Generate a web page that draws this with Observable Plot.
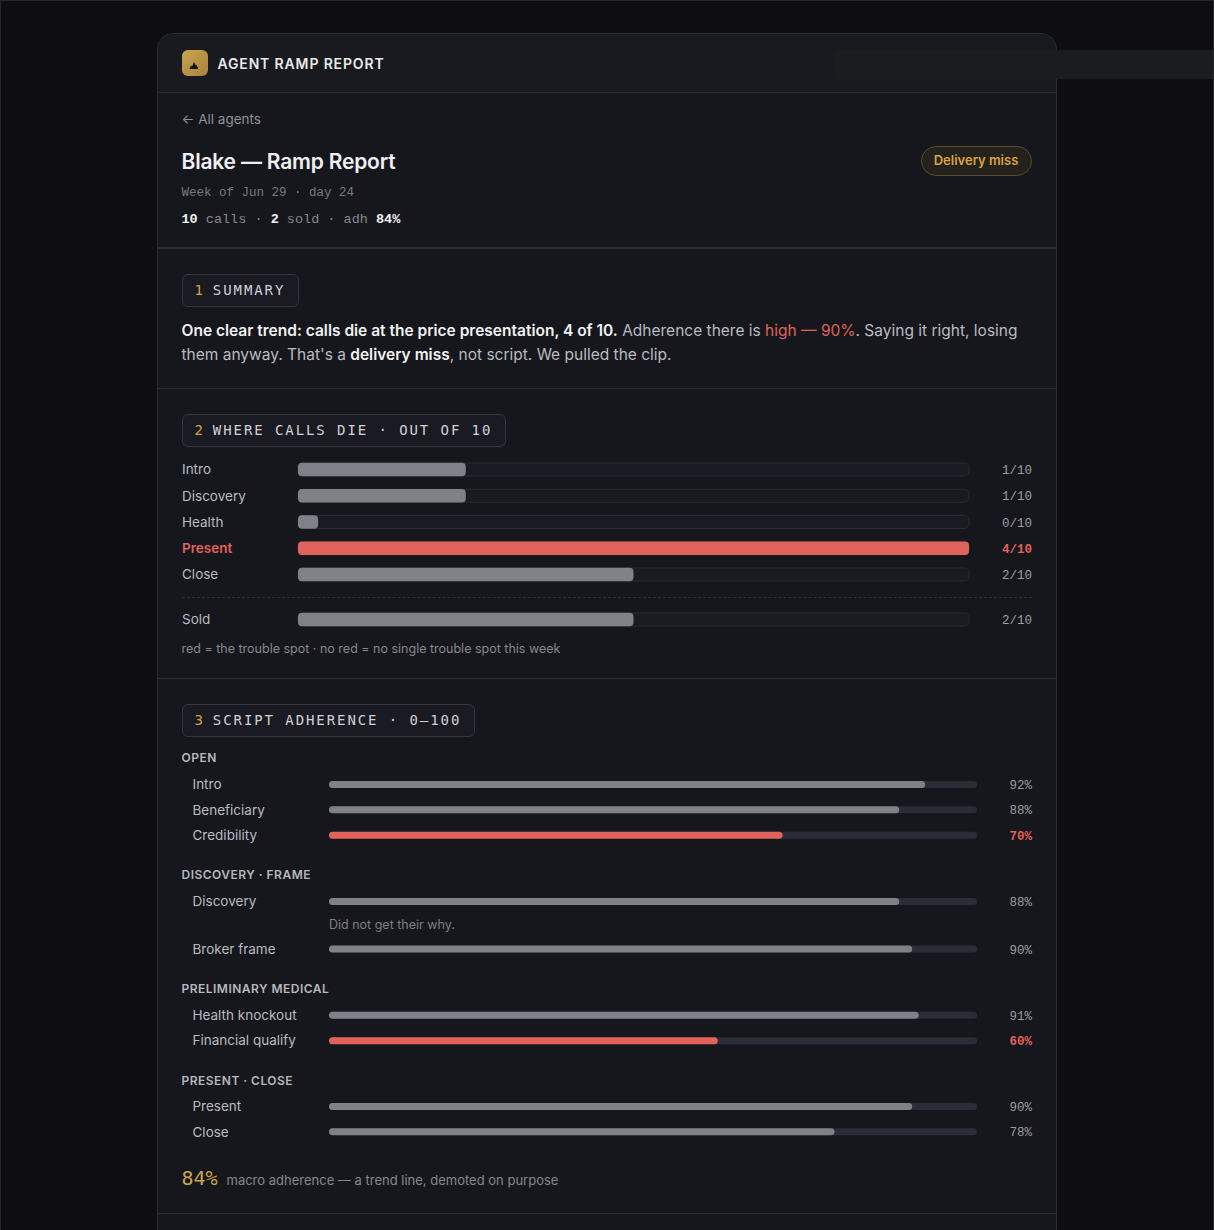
<!DOCTYPE html>
<html><head><meta charset="utf-8">
<script src="https://cdn.jsdelivr.net/npm/d3@7"></script>
<script src="https://cdn.jsdelivr.net/npm/@observablehq/plot@0.6"></script>
<style>
html,body{margin:0;padding:0;background:#0e0e12;width:1214px;height:1230px;overflow:hidden;font-family:Inter,sans-serif;}
#frame{position:absolute;left:0;top:0;width:1212px;height:1230px;border:1px solid #26262c;border-bottom:none;}
#card{position:absolute;left:156.5px;top:33px;width:898px;height:1300px;background:#16171c;border:1px solid #2a2b33;border-radius:16px 16px 0 0;box-sizing:content-box;}
#head{position:absolute;left:157.5px;top:34px;width:898px;height:58px;background:#191a1f;border-radius:16px 16px 0 0;}
.a{position:absolute;white-space:nowrap;}
.rule{position:absolute;left:157.5px;width:898px;background:#2a2b33;height:1px;}
.mono{font-family:"Liberation Mono",monospace;}
.chip{position:absolute;left:181.5px;height:31px;line-height:30px;box-sizing:content-box;border:1px solid #34353f;border-radius:6px;background:#1a1b22;color:#d0d1d6;font-family:"DejaVu Sans Mono",monospace;font-size:14px;letter-spacing:1.92px;padding:0 13px 0 12px;white-space:nowrap;}
.chip b{font-weight:400;color:#d0a345;margin-right:8px;}
.grp{position:absolute;left:181.5px;font-size:12px;font-weight:600;letter-spacing:.48px;color:#b5b7bd;white-space:nowrap;}
.plot-slot{position:absolute;left:181px;}
.sum{position:absolute;left:181.5px;font-size:15.5px;line-height:24px;color:#b9bbc1;white-space:pre;}
.sum b{font-weight:600;color:#f0f1f3;}
</style></head><body>
<div id="frame"></div>
<div id="card"></div>
<div id="head"></div>
<div class="a" style="left:835px;top:50px;width:378px;height:29px;background:#1a1c20"></div>
<div class="a" style="left:181.5px;top:50px;width:26px;height:26px;border-radius:6px;background:linear-gradient(135deg,#c9a550,#a8823a)">
<svg width="26" height="26" viewBox="0 0 26 26"><path d="M7.5 19 L9 15.5 L10 16.8 L12 12 L13.8 15.5 L14.6 15 L16.2 19 Z" fill="#14120c"/></svg></div>
<div class="a" style="left:217.5px;top:55px;font-size:14px;line-height:18px;font-weight:600;letter-spacing:.85px;color:#e8e9ec">AGENT RAMP REPORT</div>
<div class="rule" style="top:92px"></div>

<div class="a" style="left:181.5px;top:110px;font-size:13.5px;line-height:18px;color:#8f9198">← All agents</div>
<div class="a" style="left:181.5px;top:147.5px;font-size:21px;line-height:28px;font-weight:600;letter-spacing:-.2px;color:#eeeff2">Blake — Ramp Report</div>
<div class="a mono" style="left:181.5px;top:185px;font-size:12.5px;line-height:16px;color:#777981">Week of Jun 29 · day 24</div>
<div class="a mono" style="left:181.5px;top:211px;font-size:13.5px;line-height:18px;color:#85878f"><b style="color:#f0f1f3">10</b> calls · <b style="color:#f0f1f3">2</b> sold · adh <b style="color:#f0f1f3">84%</b></div>
<div class="a" style="left:920.5px;top:146px;width:109px;height:28px;line-height:27px;text-align:center;border:1px solid #5a4a2a;border-radius:15px;background:#25211c;color:#d9a441;font-size:13px;font-weight:600">Delivery miss</div>
<div class="rule" style="top:247px;height:2px"></div>

<div class="chip" style="top:274px"><b>1</b>SUMMARY</div>
<div class="sum" style="top:319px"><b>One clear trend: calls die at the price presentation, 4 of 10.</b><span> Adherence there is </span><span style="color:#e0625a">high — 90%</span><span>. Saying it right, losing</span></div>
<div class="sum" style="top:343px"><span>them anyway. That's a </span><b>delivery miss</b><span>, not script. We pulled the clip.</span></div>
<div class="rule" style="top:388px"></div>

<div class="chip" style="top:414px"><b>2</b>WHERE CALLS DIE · OUT OF 10</div>
<div class="plot-slot" id="stages" style="top:456px"></div>
<div class="a" style="left:181.5px;top:597px;width:850px;border-top:1px dashed #2e2f37"></div>
<div class="plot-slot" id="sold" style="top:606px"></div>
<div class="a" style="left:181.5px;top:640px;font-size:12.5px;line-height:17px;color:#85878f">red = the trouble spot · no red = no single trouble spot this week</div>
<div class="rule" style="top:678px"></div>

<div class="chip" style="top:704px"><b>3</b>SCRIPT ADHERENCE · 0–100</div>
<div class="grp" style="top:750px">OPEN</div>
<div class="plot-slot" id="g1" style="top:771px"></div>
<div class="grp" style="top:867px">DISCOVERY · FRAME</div>
<div class="plot-slot" id="g2" style="top:877px"></div>
<div class="grp" style="top:981px">PRELIMINARY MEDICAL</div>
<div class="plot-slot" id="g3" style="top:1002px"></div>
<div class="grp" style="top:1073px">PRESENT · CLOSE</div>
<div class="plot-slot" id="g4" style="top:1093px"></div>
<div class="a" style="left:181.5px;top:1165px;font-family:'DejaVu Sans Mono',monospace;font-size:20px;line-height:26px;color:#c9a24f">84%</div>
<div class="a" style="left:226.5px;top:1171px;font-size:13px;line-height:18px;color:#85878f">macro adherence — a trend line, demoted on purpose</div>
<div class="rule" style="top:1213px"></div>

<script>
// Section 2: where calls die, out of 10
const stageNames = ["Intro","Discovery","Health","Present","Close"];
const stageLost = [1,1,0,4,2];
const stageBar = [1,1,0.12,4,2];      // 0 is drawn with a small stub in the original
const stageHot = ["Present"];
const soldNames = ["Sold"];
const soldCount = [2];
const callScaleMax = 4;

// Section 3: script adherence, 0-100
const openNames = ["Intro","Beneficiary","Credibility"];
const openScores = [92,88,70];
const frameNames = ["Discovery","Broker frame"];
const frameScores = [88,90];
const medicalNames = ["Health knockout","Financial qualify"];
const medicalScores = [91,60];
const closeNames = ["Present","Close"];
const closeScores = [90,78];
const lowScores = ["Credibility","Financial qualify"];
const notes = {"Discovery":"Did not get their why."};

const RED="#e0625a", GREY="#7f8189";
const SANS="Inter, sans-serif", MONO="'Liberation Mono', monospace";

function countChart(id,names,bars,labels,hot,off){
  const rows=names.map((n,i)=>({name:n,bar:bars[i],label:labels[i]+"/10",hot:hot.includes(n)}));
  const cool=rows.filter(d=>!d.hot), warm=rows.filter(d=>d.hot);
  const step=26.25, h=rows.length*step;
  document.getElementById(id).append(Plot.plot({
    width:850,height:Math.ceil(h+off),marginLeft:117,marginRight:62,marginTop:0,marginBottom:0,
    style:{background:"transparent",overflow:"visible"},
    x:{domain:[0,callScaleMax],axis:null},
    y:{domain:names,range:[off,off+h],padding:0,round:false,axis:null},
    marks:[
      Plot.barX(rows,{x:()=>callScaleMax,y:"name",fill:"#1a1b22",stroke:"#2a2b33",strokeWidth:1,rx:4.5,insetTop:6.625,insetBottom:6.625}),
      Plot.barX(rows,{x:"bar",y:"name",fill:d=>d.hot?RED:GREY,rx:4,insetTop:6.4,insetBottom:6.4}),
      Plot.text(cool,{x:()=>0,dx:-116.5,y:"name",text:"name",textAnchor:"start",fontFamily:SANS,fontSize:13.5,fill:"#b9bbc1"}),
      Plot.text(warm,{x:()=>0,dx:-116.5,y:"name",text:"name",textAnchor:"start",fontFamily:SANS,fontSize:13.5,fontWeight:600,fill:RED}),
      Plot.text(cool,{x:()=>callScaleMax,dx:62.5,y:"name",text:"label",textAnchor:"end",fontFamily:MONO,fontSize:12.5,fill:"#9b9da4"}),
      Plot.text(warm,{x:()=>callScaleMax,dx:62.5,y:"name",dy:0.5,text:"label",textAnchor:"end",fontFamily:MONO,fontSize:12.5,fontWeight:700,fill:RED})
    ]
  }));
}

function scoreChart(id,names,scores,step,off){
  const rows=names.map((n,i)=>({name:n,score:scores[i],hot:lowScores.includes(n),note:notes[n]||""}));
  const cool=rows.filter(d=>!d.hot), warm=rows.filter(d=>d.hot);
  const h=rows.length*step, inset=(step-7)/2;
  document.getElementById(id).append(Plot.plot({
    width:850,height:Math.ceil(h+off),marginLeft:148,marginRight:54,marginTop:0,marginBottom:0,
    style:{background:"transparent",overflow:"visible"},
    x:{domain:[0,100],axis:null},
    y:{domain:names,range:[off,off+h],padding:0,round:false,axis:null},
    marks:[
      Plot.barX(rows,{x:()=>100,y:"name",fill:"#2a2d37",rx:3.5,insetTop:inset,insetBottom:inset}),
      Plot.barX(rows,{x:"score",y:"name",fill:d=>d.hot?RED:GREY,rx:3.5,insetTop:inset,insetBottom:inset}),
      Plot.text(rows,{x:()=>0,dx:-137,y:"name",text:"name",textAnchor:"start",fontFamily:SANS,fontSize:13.5,fill:"#b9bbc1"}),
      Plot.text(cool,{x:()=>100,dx:54.5,y:"name",text:d=>d.score+"%",textAnchor:"end",fontFamily:MONO,fontSize:12.5,fill:"#9b9da4"}),
      Plot.text(warm,{x:()=>100,dx:54.5,y:"name",text:d=>d.score+"%",textAnchor:"end",fontFamily:MONO,fontSize:12.5,fontWeight:700,fill:RED}),
      Plot.text(rows.filter(d=>d.note),{x:()=>0,dx:-0.5,y:"name",dy:23,text:"note",textAnchor:"start",fontFamily:SANS,fontSize:12.5,fill:"#7d7f87"})
    ]
  }));
}

countChart("stages",stageNames,stageBar,stageLost,stageHot,0.375);
countChart("sold",soldNames,soldCount,soldCount,[],0.375);
scoreChart("g1",openNames,openScores,25.33,0.83);
scoreChart("g2",frameNames,frameScores,47.5,0.75);
scoreChart("g3",medicalNames,medicalScores,25.33,0.63);
scoreChart("g4",closeNames,closeScores,25.33,0.83);
</script>
</body></html>
